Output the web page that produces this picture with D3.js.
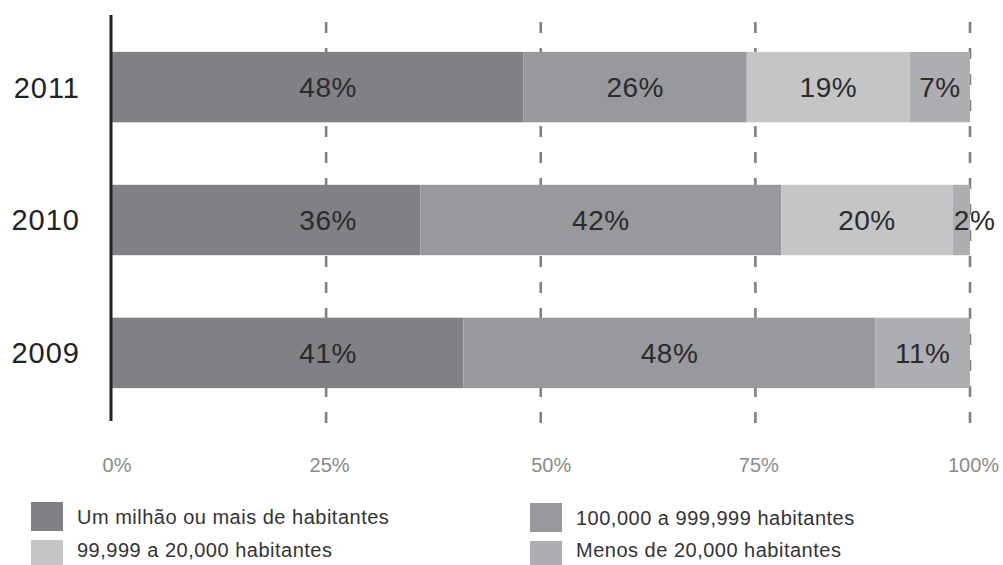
<!DOCTYPE html>
<html>
<head>
<meta charset="utf-8">
<script src="https://cdn.jsdelivr.net/npm/d3@7"></script>
<style>
  body { margin: 0; background: #fff; }
  svg { display: block; font-family: "Liberation Sans", Arial, sans-serif; }
</style>
</head>
<body>
<svg id="chart" width="1003" height="565"></svg>
<script>
// data
var years = ["2011", "2010", "2009"];
var seriesNames = [
  "Um milhão ou mais de habitantes",
  "100,000 a 999,999 habitantes",
  "99,999 a 20,000 habitantes",
  "Menos de 20,000 habitantes"
];
var umMilhao = [48, 36, 41];
var cemMil = [26, 42, 48];
var vinteMil = [19, 20, 0];
var menos = [7, 2, 11];
var ticks = [0, 25, 50, 75, 100];

var colors = ["#818185", "#98999d", "#c4c5c7", "#adaeb1"];
var values = [umMilhao, cemMil, vinteMil, menos];

var svg = d3.select("#chart");

var x = d3.scaleLinear().domain([0, 100]).range([111.5, 970]);
var y = d3.scaleBand().domain(years).range([20, 420])
  .paddingInner(0.47).paddingOuter(0.24);

// build stacked rows
var rows = years.map(function (yr, i) {
  var o = { year: yr };
  seriesNames.forEach(function (s, k) { o[s] = values[k][i]; });
  return o;
});
var stacked = d3.stack().keys(seriesNames)(rows);

// dashed grid lines (behind bars)
svg.append("g").selectAll("line")
  .data(ticks.slice(1))
  .join("line")
  .attr("x1", function (d) { return x(d); })
  .attr("x2", function (d) { return x(d); })
  .attr("y1", 22).attr("y2", 425)
  .attr("stroke", "#808080")
  .attr("stroke-width", 2.6)
  .attr("stroke-dasharray", "11,15");

// bars
var layers = svg.append("g").selectAll("g")
  .data(stacked)
  .join("g")
  .attr("fill", function (d, k) { return colors[k]; });

layers.selectAll("rect")
  .data(function (d) { return d.filter(function (p) { return p[1] > p[0]; }); })
  .join("rect")
  .attr("x", function (p) { return x(p[0]); })
  .attr("width", function (p) { return x(p[1]) - x(p[0]); })
  .attr("y", function (p) { return y(p.data.year); })
  .attr("height", y.bandwidth());

// segment labels
stacked.forEach(function (layer, k) {
  svg.append("g").selectAll("text")
    .data(layer.filter(function (p) { return p[1] > p[0]; }))
    .join("text")
    .attr("x", function (p) {
      if (k === 0) return x(25) + 2;
      if (p[1] - p[0] < 5) return x(p[0]) + 1;
      return (x(p[0]) + x(p[1])) / 2;
    })
    .attr("text-anchor", function (p) { return (k > 0 && p[1] - p[0] < 5) ? "start" : "middle"; })
    .attr("y", function (p) { return y(p.data.year) + y.bandwidth() / 2; })
    .attr("dy", "0.36em")
    .attr("font-size", 28)
    .attr("letter-spacing", 0.5)
    .attr("fill", "#2b2b2b")
    .text(function (p) { return (p[1] - p[0]) + "%"; });
});

// vertical axis line
svg.append("line")
  .attr("x1", 111).attr("x2", 111)
  .attr("y1", 15).attr("y2", 421)
  .attr("stroke", "#222").attr("stroke-width", 3);

// year labels
svg.append("g").selectAll("text")
  .data(years)
  .join("text")
  .attr("x", 80)
  .attr("y", function (d) { return y(d) + y.bandwidth() / 2; })
  .attr("dy", "0.36em")
  .attr("text-anchor", "end")
  .attr("font-size", 29)
  .attr("letter-spacing", 1)
  .attr("fill", "#222")
  .text(function (d) { return d; });

// bottom tick labels
var xAxis = svg.append("g")
  .attr("transform", "translate(0,458)")
  .call(d3.axisBottom(x).tickValues(ticks).tickSize(0).tickPadding(0)
    .tickFormat(function (d) { return d + "%"; }));
xAxis.select(".domain").remove();
xAxis.selectAll("text")
  .attr("font-family", "Liberation Sans, Arial, sans-serif")
  .attr("font-size", 20)
  .attr("fill", "#8a8a8a")
  .attr("dx", function (d, i) { return i === 0 ? 5 : (i === 2 ? 10 : 3); });

// legend: two columns, two rows
var legendPos = [[31, 502, 517], [530, 503, 518], [31, 540, 550], [530, 541, 550]];
var legend = svg.append("g").selectAll("g")
  .data(seriesNames)
  .join("g");
legend.append("rect")
  .attr("x", function (d, k) { return legendPos[k][0]; })
  .attr("y", function (d, k) { return legendPos[k][1]; })
  .attr("width", 32).attr("height", 29)
  .attr("fill", function (d, k) { return colors[k]; });
legend.append("text")
  .attr("x", function (d, k) { return legendPos[k][0] + 46; })
  .attr("y", function (d, k) { return legendPos[k][2]; })
  .attr("dy", "0.36em")
  .attr("font-size", 20)
  .attr("letter-spacing", 0.5)
  .attr("fill", "#333")
  .text(function (d) { return d; });
</script>
</body>
</html>
